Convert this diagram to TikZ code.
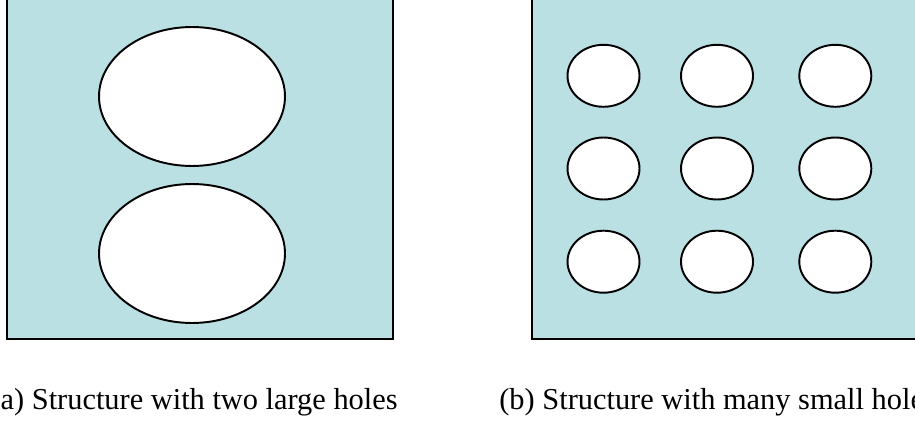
\documentclass[tikz,border=0pt]{standalone}
\usepackage{fontspec}
\setmainfont{Liberation Serif}
\usepackage{tikz}
\usetikzlibrary{shapes.geometric,positioning}
\definecolor{plateBlue}{RGB}{186,224,227}

\begin{document}
\begin{tikzpicture}[
        x=0.02cm, y=-0.02cm,
        plate/.style={draw=black, line width=1.4pt, fill=plateBlue},
        hole/.style={ellipse, draw=black, line width=1.1pt, fill=white,
          inner sep=0pt},
        bighole/.style={hole, minimum width=3.72cm, minimum height=2.78cm},
        smallhole/.style={hole, minimum width=1.44cm, minimum height=1.24cm},
        caption/.style={font=\fontsize{17.3}{20}\selectfont, inner sep=0pt}
      ]
        \useasboundingbox (0,0) rectangle (915,422);
        \clip (0,0) rectangle (915,422);

        % plate with two large holes
        \draw[plate] (7,-10) rectangle (393,339);
        \node[bighole] (top) at (192,96.5) {};
        \node[bighole] (bottom) at (192,253.5) {};
        \node[caption, anchor=base east] (capa) at (398,409)
          {(a) Structure with two large holes};

        % plate with many small holes
        \draw[plate] (532,-10) rectangle (930,339);
        \foreach \r/\y in {1/75.8, 2/168.5, 3/261.7}
          \foreach \c/\x in {1/603.5, 2/717, 3/835.3}
            \node[smallhole] (hole-\r-\c) at (\x,\y) {};
        \node[caption, anchor=base west] (capb) at (499,409)
          {(b) Structure with many small holes};
      \end{tikzpicture}
\end{document}
